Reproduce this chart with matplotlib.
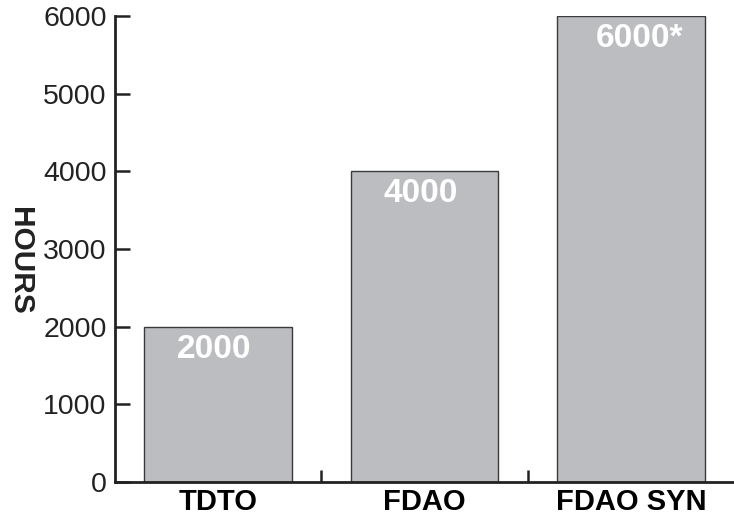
import numpy as np
import matplotlib.pyplot as plt
from matplotlib.ticker import FixedLocator

plt.rcParams['font.family'] = ['Liberation Sans', 'DejaVu Sans']

categories = ['TDTO', 'FDAO', 'FDAO SYN']
hours = [2000, 4000, 6000]
bar_labels = ['2000', '4000', '6000*']
y_ticks = [0, 1000, 2000, 3000, 4000, 5000, 6000]

fig = plt.figure(figsize=(7.34, 5.16), dpi=100)
ax = fig.add_axes([0.1567, 0.0659, 0.8433, 0.9031])

x = np.arange(len(categories))
bars = ax.bar(x, hours, width=0.715, color='#bcbdc1', edgecolor='#3a3a3a', linewidth=1.0)

for rect, lab in zip(bars, bar_labels):
    # keep the digits centred, let a trailing asterisk hang to the right
    dx = 6 if lab.endswith('*') else -3
    ax.annotate(lab, (rect.get_x() + rect.get_width() / 2, rect.get_height()),
                xytext=(dx, -5), textcoords='offset points', ha='center', va='top',
                color='white', fontsize=24, fontweight='bold')

ax.set_xlim(-0.5, 2.5)
ax.set_ylim(0, 6000)
ax.set_yticks(y_ticks)
ax.set_xticks(x)
ax.set_xticklabels(categories, fontsize=21, fontweight='bold')
ax.xaxis.set_minor_locator(FixedLocator([0.5, 1.5]))
ax.tick_params(axis='x', which='major', length=0, pad=4)
ax.tick_params(axis='x', which='minor', direction='in', length=9, width=1.8, color='#222222')
ax.tick_params(axis='y', direction='in', length=11, width=1.8, labelsize=20.5, pad=6, color='#222222')
for lab in ax.get_yticklabels():
    lab.set_color('#222222')

for s in ['top', 'right']:
    ax.spines[s].set_visible(False)
for s in ['left', 'bottom']:
    ax.spines[s].set_linewidth(2)
    ax.spines[s].set_color('#222222')

fig.text(0.027, 0.495, 'HOURS', rotation=-90, ha='center', va='center',
         fontsize=21.5, fontweight='bold', color='#222222')

fig.savefig('out.png', dpi=100)
